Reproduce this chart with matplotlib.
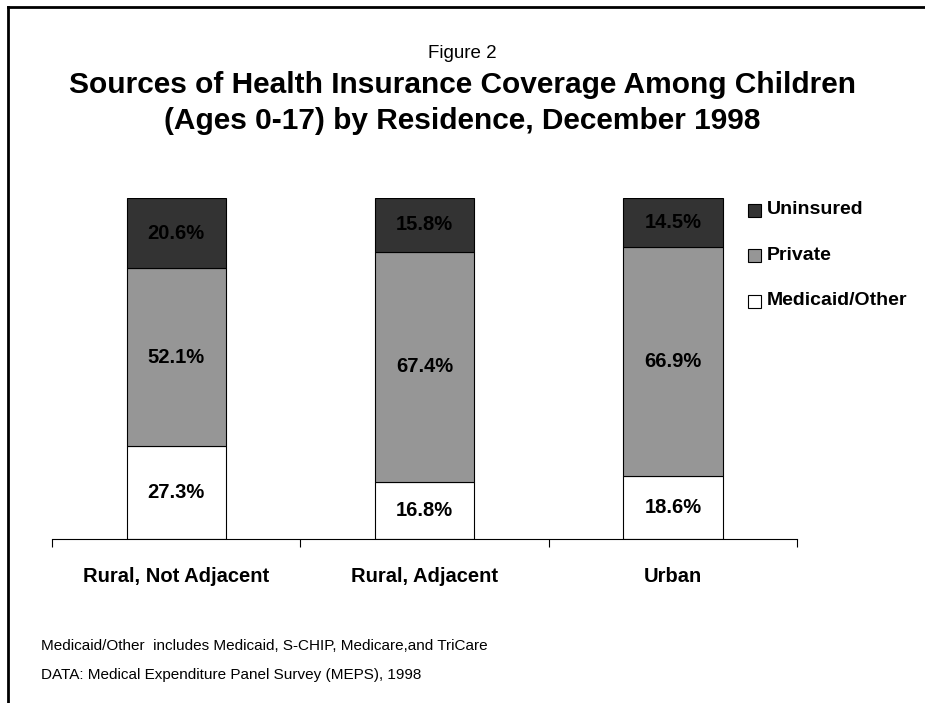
import matplotlib.pyplot as plt
from matplotlib.lines import Line2D
from matplotlib.patches import Rectangle

plt.rcParams['font.family'] = ['Liberation Sans', 'DejaVu Sans']

categories = ['Rural, Not Adjacent', 'Rural, Adjacent', 'Urban']
medicaid = [27.3, 16.8, 18.6]
private = [52.1, 67.4, 66.9]
uninsured = [20.6, 15.8, 14.5]

series = [
    ('Medicaid/Other', medicaid, '#ffffff'),
    ('Private', private, '#969696'),
    ('Uninsured', uninsured, '#333333'),
]

W, H = 925, 703
fig = plt.figure(figsize=(W / 100, H / 100), dpi=100)
ax = fig.add_axes([52 / W, 1 - 539 / H, 745 / W, 341 / H])

x = range(len(categories))
bottom = [0.0] * len(categories)
for name, vals, color in series:
    ax.bar(x, vals, width=0.4, bottom=bottom, color=color,
           edgecolor='black', linewidth=0.8)
    for i, v in enumerate(vals):
        ax.text(i, bottom[i] + v / 2, f'{v:.1f}%', ha='center', va='center',
                fontsize=14.5, fontweight='bold', color='black')
    bottom = [b + v for b, v in zip(bottom, vals)]

ax.set_xlim(-0.5, 2.5)
ax.set_ylim(0, 100)
for s in ['top', 'right', 'left']:
    ax.spines[s].set_visible(False)
ax.spines['bottom'].set_linewidth(0.8)
ax.set_yticks([])
ax.set_xticks([-0.5, 0.5, 1.5, 2.5])
ax.set_xticklabels([])
ax.tick_params(axis='x', direction='out', length=6, width=0.8)
for i, c in enumerate(categories):
    ax.text(i, -11, c, ha='center', va='center', fontsize=14.5,
            fontweight='bold')

# legend on the right, top row first
for k, (name, _, color) in enumerate(series[::-1]):
    yc = 210 + k * 45.5
    fig.add_artist(Rectangle((748 / W, 1 - (yc + 6.5) / H), 13 / W, 13 / H,
                             facecolor=color, edgecolor='black', linewidth=0.8,
                             transform=fig.transFigure))
    fig.text(767 / W, 1 - yc / H, name, ha='left', va='center',
             fontsize=14, fontweight='bold')

fig.text(0.5, 1 - 54 / H, 'Figure 2', ha='center', va='center', fontsize=13.5)
fig.text(0.5, 1 - 85 / H, 'Sources of Health Insurance Coverage Among Children',
         ha='center', va='center', fontsize=21.5, fontweight='bold')
fig.text(0.5, 1 - 121 / H, '(Ages 0-17) by Residence, December 1998',
         ha='center', va='center', fontsize=21.5, fontweight='bold')

fig.text(41 / W, 1 - 646 / H,
         'Medicaid/Other  includes Medicaid, S-CHIP, Medicare,and TriCare',
         ha='left', va='center', fontsize=11)
fig.text(41 / W, 1 - 675 / H,
         'DATA: Medical Expenditure Panel Survey (MEPS), 1998',
         ha='left', va='center', fontsize=11)

# frame lines along top and left edge
fig.add_artist(Line2D([8 / W, 8 / W], [0, 1 - 7 / H], color='black',
                      linewidth=2, transform=fig.transFigure))
fig.add_artist(Line2D([8 / W, 1], [1 - 7 / H, 1 - 7 / H], color='black',
                      linewidth=2, transform=fig.transFigure))

fig.savefig('out.png', dpi=100, facecolor='white')
